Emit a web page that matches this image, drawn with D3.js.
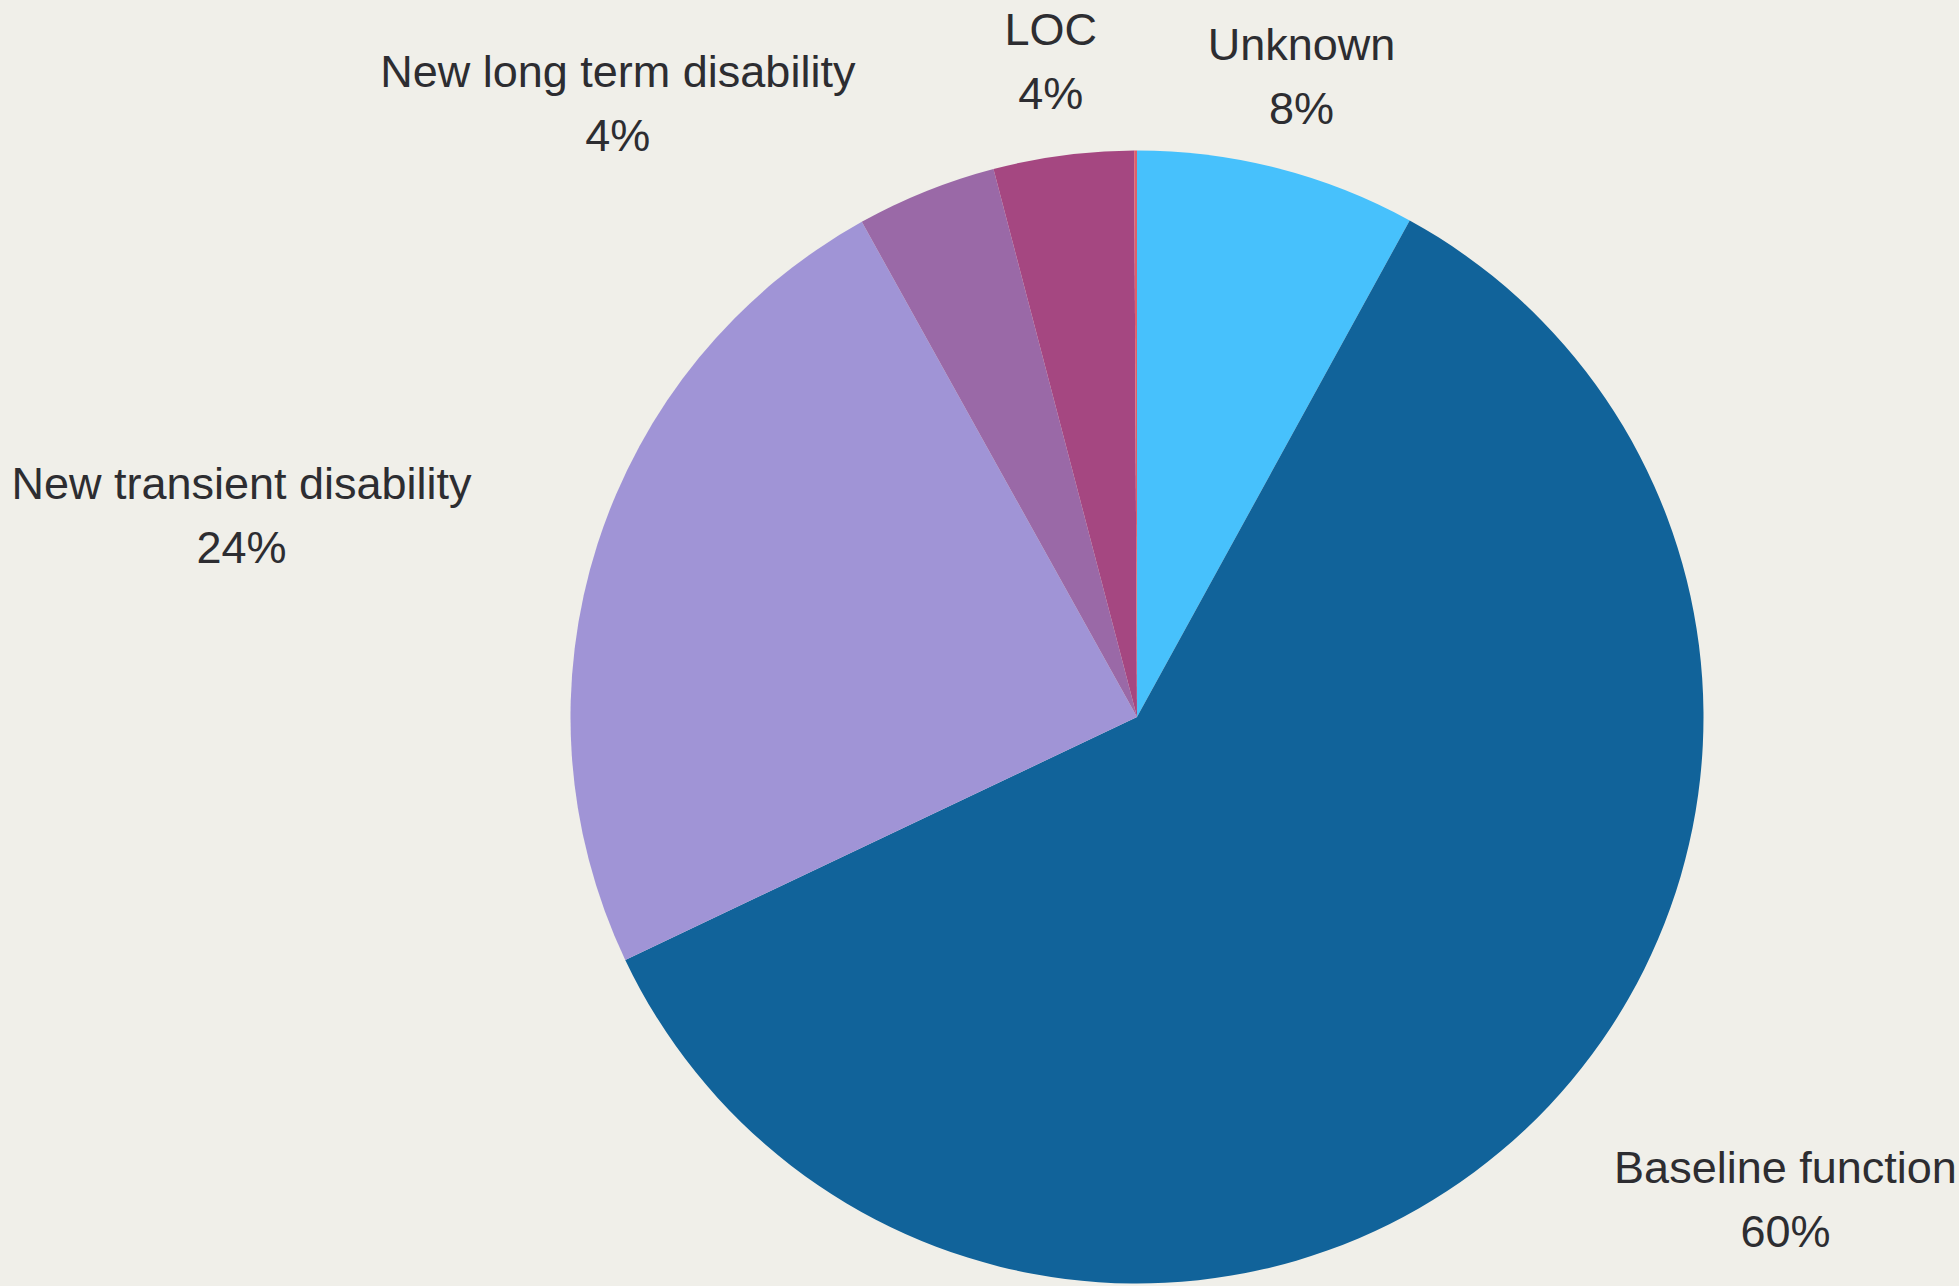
<!DOCTYPE html>
<html>
<head>
<meta charset="utf-8">
<script src="https://cdn.jsdelivr.net/npm/d3@7"></script>
<style>
  html, body { margin: 0; padding: 0; background: #f0efe9; }
  svg { display: block; }
  text { font-family: "Liberation Sans", Arial, Helvetica, sans-serif; fill: #2d2d31; }
</style>
</head>
<body>
<svg id="chart" width="1959" height="1286"></svg>
<script>
// Outcome categories, clockwise from 12 o'clock
const categories = ["Unknown", "Baseline function", "New transient disability", "New long term disability", "LOC", "Other"];
// Share of patients (%)
const values = [8, 60, 24, 4, 4, 0.08];
// Printed percentage labels ("" = slice too thin to label)
const valueLabels = ["8%", "60%", "24%", "4%", "4%", ""];
const colors = ["#47c1fc", "#11639a", "#a094d6", "#9a69a7", "#a54781", "#de5f6c"];

const W = 1959, H = 1286;
const cx = 1137, cy = 717, R = 566.5;
const labelR = 662;
const fontSize = 45, lineGap = 64;

const svg = d3.select("#chart");
svg.append("rect").attr("width", W).attr("height", H).attr("fill", "#f0efe9");

const data = categories.map((c, i) => ({ name: c, value: values[i], label: valueLabels[i], color: colors[i] }));

const pie = d3.pie().sort(null).value(d => d.value).startAngle(0).endAngle(2 * Math.PI);
const arcs = pie(data);
const arc = d3.arc().innerRadius(0).outerRadius(R);

const g = svg.append("g").attr("transform", `translate(${cx},${cy})`);

g.selectAll("path.slice")
  .data(arcs)
  .join("path")
  .attr("class", "slice")
  .attr("d", arc)
  .attr("fill", d => d.data.color);

// Labels: two centred lines, placed along the slice's mid-angle
const labelled = arcs.filter(d => d.data.label !== "");
const lg = g.selectAll("g.label").data(labelled).join("g").attr("class", "label");

lg.append("text")
  .attr("class", "name")
  .attr("text-anchor", "middle")
  .attr("font-size", fontSize)
  .attr("y", -16)
  .text(d => d.data.name);

lg.append("text")
  .attr("class", "pct")
  .attr("text-anchor", "middle")
  .attr("font-size", fontSize)
  .attr("y", -16 + lineGap)
  .text(d => d.data.label);

lg.attr("transform", function(d) {
  const a = (d.startAngle + d.endAngle) / 2;
  const s = Math.sin(a), c = Math.cos(a);
  let x = labelR * s;
  const y = -labelR * c;
  const w = Math.max(...Array.from(this.querySelectorAll("text")).map(t => t.getComputedTextLength()));
  if (Math.abs(s) > 0.3) {
    // side labels sit beside the anchor point, away from the pie
    x += s < 0 ? -(w / 2 + 35) : (w / 2 + 23);
  }
  return `translate(${x},${y})`;
});
</script>
</body>
</html>
